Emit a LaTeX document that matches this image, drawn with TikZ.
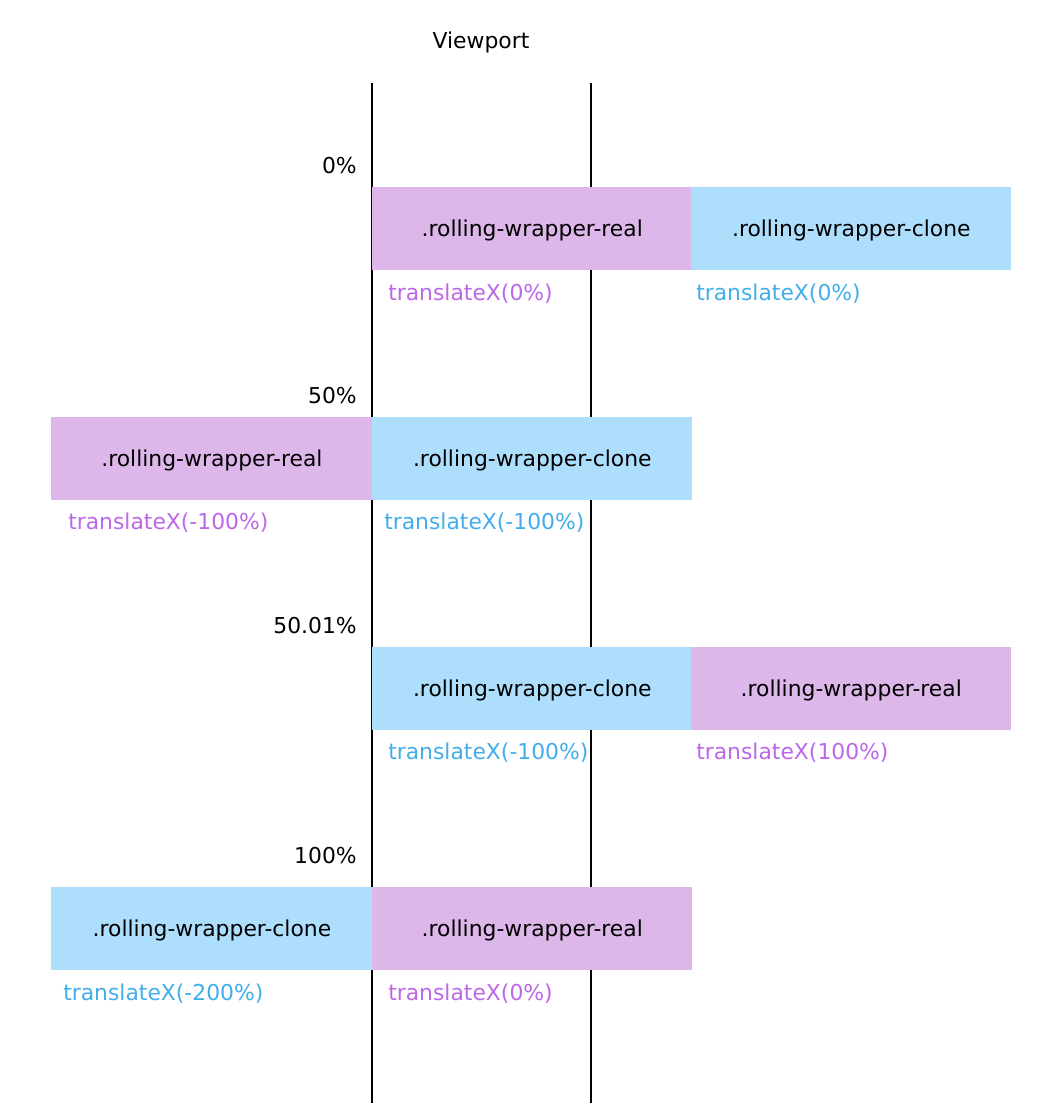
\documentclass[tikz,border=0pt]{standalone}
\usepackage{fontspec}
\setmainfont{DejaVu Sans}
\definecolor{realfill}{HTML}{DDB7EA}
\definecolor{clonefill}{HTML}{ADDFFD}
\definecolor{realtxt}{HTML}{BC66E8}
\definecolor{clonetxt}{HTML}{42ADEB}
\begin{document}
\begin{tikzpicture}[x=0.75pt,y=-0.75pt,
  txt/.style={font=\fontsize{16.4}{19}\selectfont},
  box/.style={txt,minimum width=240pt,minimum height=62.25pt,inner sep=0pt,anchor=north west,text depth=1.5pt},
  leftbox/.style={minimum width=241pt},
  realbox/.style={box,fill=realfill},
  clonebox/.style={box,fill=clonefill},
  pct/.style={txt,anchor=east,inner sep=0pt},
  tr/.style={txt,anchor=west,inner sep=0pt},
  realtr/.style={tr,text=realtxt},
  clonetr/.style={tr,text=clonetxt},
  vline/.style={line width=1.5pt}]
\useasboundingbox (0,0) rectangle (1062,1103);
\node[txt] (vp) at (481,42) {Viewport};
\coordinate (l1t) at (372,83); \coordinate (l1b) at (372,1103);
\coordinate (l2t) at (591,83); \coordinate (l2b) at (591,1103);
\draw[vline] (l1t) -- (l1b);
\draw[vline] (l2t) -- (l2b);
% row 1
\node[pct] (p1) at (357,166) {0\%};
\node[realbox] (r1a) at (372,187) {.rolling-wrapper-real};
\node[clonebox] (r1b) at (691,187) {.rolling-wrapper-clone};
\node[realtr] (t1a) at (388,294) {translateX(0\%)};
\node[clonetr] (t1b) at (696,294) {translateX(0\%)};
% row 2
\node[pct] (p2) at (357,396) {50\%};
\node[realbox,leftbox] (r2a) at (51,417) {.rolling-wrapper-real};
\node[clonebox] (r2b) at (372,417) {.rolling-wrapper-clone};
\node[realtr] (t2a) at (68,523) {translateX(-100\%)};
\node[clonetr] (t2b) at (384,523) {translateX(-100\%)};
% row 3
\node[pct] (p3) at (357,626) {50.01\%};
\node[clonebox] (r3a) at (372,647) {.rolling-wrapper-clone};
\node[realbox] (r3b) at (691,647) {.rolling-wrapper-real};
\node[clonetr] (t3a) at (388,753) {translateX(-100\%)};
\node[realtr] (t3b) at (696,753) {translateX(100\%)};
% row 4
\node[pct] (p4) at (357,856) {100\%};
\node[clonebox,leftbox] (r4a) at (51,887) {.rolling-wrapper-clone};
\node[realbox] (r4b) at (372,887) {.rolling-wrapper-real};
\node[clonetr] (t4a) at (63,994) {translateX(-200\%)};
\node[realtr] (t4b) at (388,994) {translateX(0\%)};
\end{tikzpicture}
\end{document}
